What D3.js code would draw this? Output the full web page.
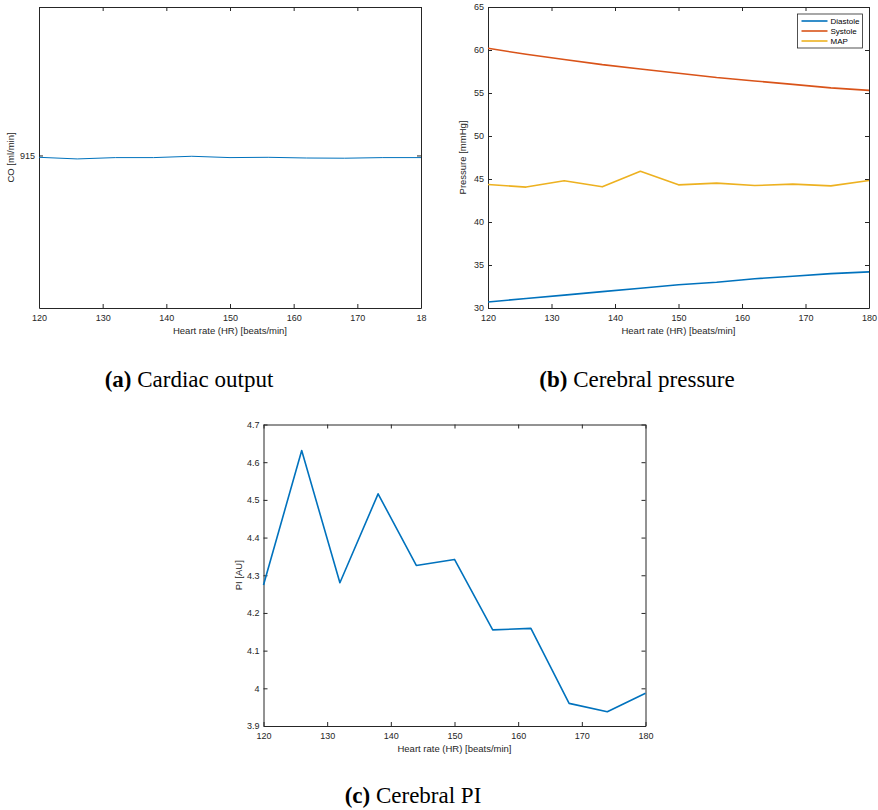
<!DOCTYPE html>
<html>
<head>
<meta charset="utf-8">
<script src="https://cdn.jsdelivr.net/npm/d3@7"></script>
<style>
  html, body { margin: 0; padding: 0; background: #fff; }
  svg { display: block; }
  .tick text { font-family: "Liberation Sans", Arial, sans-serif; font-size: 9px; fill: #262626; }
  .axlabel { font-family: "Liberation Sans", Arial, sans-serif; font-size: 9.5px; fill: #262626; }
  .caption { font-family: "Liberation Serif", "Times New Roman", serif; font-size: 23px; fill: #000; }
  .legend text { font-family: "Liberation Sans", Arial, sans-serif; font-size: 8px; fill: #000; }
</style>
</head>
<body>
<svg id="fig" width="878" height="810"></svg>
<script>
// Heart rate sweep shared by all three panels
const heartRate = [120, 126, 132, 138, 144, 150, 156, 162, 168, 174, 180];

// (a) Cardiac output [ml/min]
const cardiacOutput = [914.9982, 914.9966, 914.9979, 914.9979, 914.9992, 914.9979,
                       914.9982, 914.9975, 914.9973, 914.9979, 914.9979];
const coTicks = [915];
const coXTickLabels = ["120", "130", "140", "150", "160", "170", "18"];

// (b) Cerebral pressure [mmHg]
const diastole = [30.7, 31.1, 31.5, 31.9, 32.3, 32.7, 33.0, 33.4, 33.7, 34.0, 34.2];
const systole  = [60.2, 59.5, 58.9, 58.3, 57.8, 57.3, 56.8, 56.4, 56.0, 55.6, 55.3];
const map      = [44.36, 44.06, 44.79, 44.09, 45.9, 44.32, 44.52, 44.24, 44.4, 44.2, 44.82];
const pressureTicks = [30, 35, 40, 45, 50, 55, 60, 65];
const seriesNames = ["Diastole", "Systole", "MAP"];

// (c) Cerebral pulsatility index [AU]
const pulsatility = [4.274, 4.631, 4.280, 4.516, 4.326, 4.342, 4.155, 4.159, 3.960, 3.938, 3.987];
const piTicks = [3.9, 4.0, 4.1, 4.2, 4.3, 4.4, 4.5, 4.6, 4.7];

const hrTicks = [120, 130, 140, 150, 160, 170, 180];
const colors = ["#0072BD", "#D95319", "#EDB120"];
const axisColor = "#262626";

const svg = d3.select("#fig");

// Draws a MATLAB-style boxed axes with inward ticks on all four sides
function makeAxes(box, xDomain, yDomain, opts) {
  const x = d3.scaleLinear().domain(xDomain).range([box.x0, box.x1]);
  const y = d3.scaleLinear().domain(yDomain).range([box.y1, box.y0]);
  const g = svg.append("g");
  const tl = 4;

  const fmtY = opts.yFormat || (d => String(+d.toFixed(2)));
  const fmtX = opts.xFormat || (d => String(d));

  // bottom
  const bottom = g.append("g").attr("transform", `translate(0,${box.y1})`)
    .call(d3.axisBottom(x).tickValues(hrTicks).tickSizeInner(-tl).tickSizeOuter(0)
      .tickPadding(7).tickFormat(fmtX));
  // top
  const top = g.append("g").attr("transform", `translate(0,${box.y0})`)
    .call(d3.axisTop(x).tickValues(hrTicks).tickSizeInner(-tl).tickSizeOuter(0).tickFormat(""));
  // left
  const left = g.append("g").attr("transform", `translate(${box.x0},0)`)
    .call(d3.axisLeft(y).tickValues(opts.yTicks).tickSizeInner(-tl).tickSizeOuter(0)
      .tickPadding(8).tickFormat(fmtY));
  // right
  const right = g.append("g").attr("transform", `translate(${box.x1},0)`)
    .call(d3.axisRight(y).tickValues(opts.yTicks).tickSizeInner(-tl).tickSizeOuter(0).tickFormat(""));

  [bottom, top, left, right].forEach(a => {
    a.select(".domain").attr("stroke", axisColor).attr("stroke-width", 1);
    a.selectAll(".tick line").attr("stroke", axisColor).attr("stroke-width", 1);
  });
  left.selectAll(".tick text").attr("dx", "4");

  // axis labels
  g.append("text").attr("class", "axlabel")
    .attr("x", (box.x0 + box.x1) / 2).attr("y", box.y1 + 26)
    .attr("text-anchor", "middle").text("Heart rate (HR) [beats/min]");
  g.append("text").attr("class", "axlabel")
    .attr("transform", `translate(${box.x0 - opts.yLabelOffset},${(box.y0 + box.y1) / 2}) rotate(-90)`)
    .attr("text-anchor", "middle").text(opts.yLabel);

  return { x, y, g };
}

function drawLine(ax, values, color, width) {
  const line = d3.line().x((d, i) => ax.x(heartRate[i])).y(d => ax.y(d));
  ax.g.append("path").datum(values)
    .attr("fill", "none").attr("stroke", color).attr("stroke-width", width)
    .attr("stroke-linejoin", "round").attr("d", line);
}

function caption(x, y, tag, text) {
  const t = svg.append("text").attr("class", "caption").attr("x", x).attr("y", y)
    .attr("text-anchor", "middle");
  t.append("tspan").attr("font-weight", "bold").text(tag);
  t.append("tspan").text(" " + text);
}

// (a) Cardiac output
const axA = makeAxes({ x0: 39, x1: 421, y0: 7, y1: 308 }, [120, 180], [914.85, 915.146], {
  yTicks: coTicks, yLabel: "CO [ml/min]", yLabelOffset: 25,
  yFormat: d => String(d),
  xFormat: (d, i) => coXTickLabels[i]
});
drawLine(axA, cardiacOutput, colors[0], 1);

// (b) Cerebral pressure
const axB = makeAxes({ x0: 488, x1: 869, y0: 7, y1: 308 }, [120, 180], [30, 65], {
  yTicks: pressureTicks, yLabel: "Pressure [mmHg]", yLabelOffset: 22
});
[diastole, systole, map].forEach((s, i) => drawLine(axB, s, colors[i], 1.6));

// legend
const leg = svg.append("g").attr("class", "legend");
leg.append("rect").attr("x", 797.5).attr("y", 14).attr("width", 65).attr("height", 34)
  .attr("fill", "#fff").attr("stroke", axisColor).attr("stroke-width", 0.8);
seriesNames.forEach((name, i) => {
  const yy = 21 + i * 10;
  leg.append("line").attr("x1", 801.5).attr("x2", 827.5).attr("y1", yy).attr("y2", yy)
    .attr("stroke", colors[i]).attr("stroke-width", 1.6);
  leg.append("text").attr("x", 830.5).attr("y", yy + 3).text(name);
});

// (c) Cerebral PI
const axC = makeAxes({ x0: 263.5, x1: 645.5, y0: 424.5, y1: 726 }, [120, 180], [3.9, 4.7], {
  yTicks: piTicks, yLabel: "PI [AU]", yLabelOffset: 22,
  yFormat: d => String(+d.toFixed(1))
});
drawLine(axC, pulsatility, colors[0], 1.6);

caption(189, 387, "(a)", "Cardiac output");
caption(637, 387, "(b)", "Cerebral pressure");
caption(413, 803, "(c)", "Cerebral PI");
</script>
</body>
</html>
